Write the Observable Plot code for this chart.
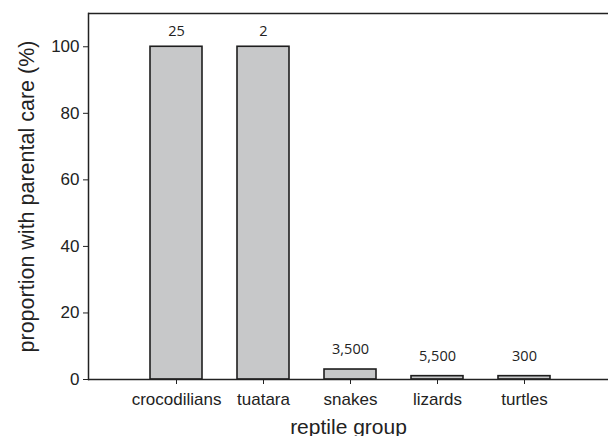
<!DOCTYPE html>
<html>
<head>
<meta charset="utf-8">
<script src="https://cdn.jsdelivr.net/npm/d3@7"></script>
<script src="https://cdn.jsdelivr.net/npm/@observablehq/plot@0.6"></script>
<style>
  html, body { margin: 0; padding: 0; background: #fff; }
  #chart svg { display: block; }
</style>
</head>
<body>
<div id="chart"></div>
<script>
const groups = ["crocodilians", "tuatara", "snakes", "lizards", "turtles"];
const proportions = [100, 100, 3, 1, 1];
const speciesCounts = ["25", "2", "3,500", "5,500", "300"];
const yTicks = [0, 20, 40, 60, 80, 100];
const xTitle = "reptile group";
const yTitle = "proportion with parental care (%)";

const data = groups.map((g, i) => ({group: g, value: proportions[i], n: speciesCounts[i]}));

const chart = Plot.plot({
  width: 608,
  height: 436,
  marginLeft: 88,
  marginRight: 0,
  marginTop: 13,
  marginBottom: 57,
  style: {fontFamily: "'Liberation Sans', Arial, sans-serif", background: "#fff", color: "#222"},
  x: {domain: groups, range: [88, 612], paddingInner: 0.4, paddingOuter: 0.69},
  y: {domain: [0, 110]},
  marks: [
    Plot.barY(data, {x: "group", y: "value", fill: "#c7c8c9", stroke: "#1e1e1e", strokeWidth: 1.6}),
    Plot.text(data.filter(d => d.value >= 50), {x: "group", y: "value", text: "n", dy: -15, fontSize: 14.5, fontFamily: "'Open Sans', sans-serif", fill: "#222"}),
    Plot.text(data.filter(d => d.value < 50), {x: "group", y: "value", text: "n", dy: -20, fontSize: 14.5, fontFamily: "'Open Sans', sans-serif", fill: "#222"}),
    Plot.ruleY([0], {stroke: "#222", strokeWidth: 1.5}),
    Plot.ruleY([110], {stroke: "#222", strokeWidth: 1.5}),
    Plot.frame({anchor: "left", stroke: "#222", strokeWidth: 1.5}),
    Plot.axisY({ticks: yTicks, tickSize: 5, tickPadding: 4, fontSize: 17, label: null, stroke: "#222", color: "#222"}),
    Plot.axisX({tickSize: 5, tickPadding: 8, fontSize: 17, label: null, stroke: "#222", color: "#222"}),
    Plot.text([xTitle], {frameAnchor: "bottom", lineAnchor: "bottom", dy: 54, fontSize: 21, fill: "#222"}),
    Plot.text([yTitle], {frameAnchor: "left", textAnchor: "middle", rotate: -90, dx: -61, fontSize: 21.5, fill: "#222"})
  ]
});
document.getElementById("chart").appendChild(chart);
</script>
</body>
</html>
